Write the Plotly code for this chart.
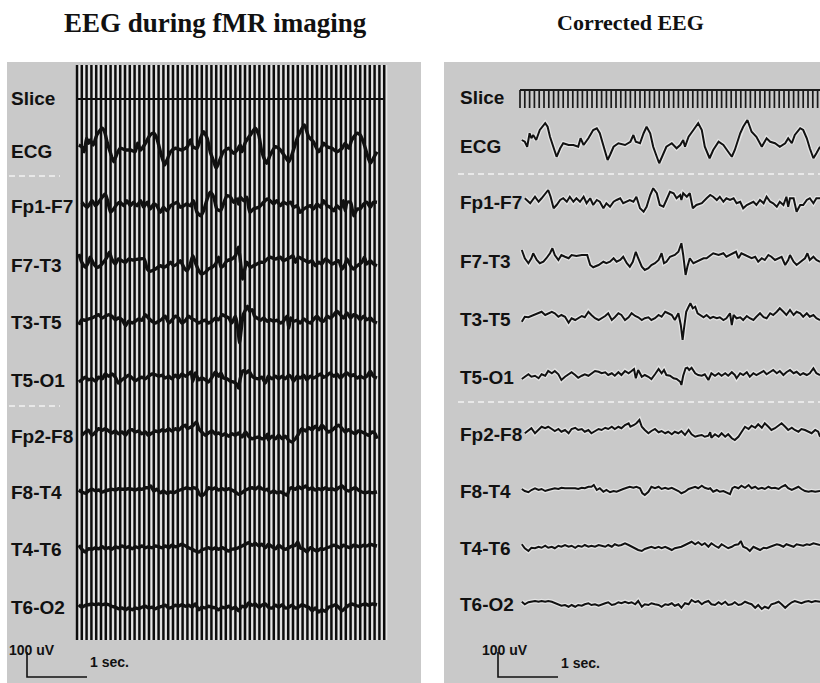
import plotly.graph_objects as go

# ---------------- data (time in s, amplitude in uV) ----------------
channels = ["Slice", "ECG", "Fp1-F7", "F7-T3", "T3-T5", "T5-O1",
            "Fp2-F8", "F8-T4", "T4-T6", "T6-O2"]

slice_times = [0.00, 0.08, 0.16, 0.24, 0.32, 0.40, 0.48, 0.56, 0.64, 0.72, 0.80, 0.88, 0.96,
               1.04, 1.12, 1.20, 1.28, 1.36, 1.44, 1.52, 1.60, 1.68, 1.76, 1.84, 1.92, 2.00,
               2.08, 2.16, 2.24, 2.32, 2.40, 2.48, 2.56, 2.64, 2.72, 2.80, 2.88, 2.96, 3.04,
               3.12, 3.20, 3.28, 3.36, 3.44, 3.52, 3.60, 3.68, 3.76, 3.84, 3.92, 4.00, 4.08,
               4.16, 4.24, 4.32, 4.40, 4.48, 4.56, 4.64, 4.72, 4.80, 4.88, 4.96, 5.04, 5.12]

ecg_t = [0.03, 0.08, 0.12, 0.16, 0.19, 0.22, 0.27, 0.33, 0.42, 0.46, 0.50, 0.56, 0.61, 0.67, 0.72,
         0.81, 0.89, 0.97, 1.01, 1.06, 1.14, 1.22, 1.28, 1.33, 1.39, 1.46, 1.50, 1.56, 1.64, 1.75,
         1.84, 1.89, 1.93, 2.00, 2.06, 2.11, 2.17, 2.22, 2.28, 2.32, 2.38, 2.44, 2.53, 2.61, 2.67,
         2.72, 2.75, 2.81, 2.89, 2.97, 3.03, 3.08, 3.16, 3.22, 3.31, 3.39, 3.47, 3.53, 3.58, 3.67,
         3.72, 3.79, 3.86, 3.94, 4.03, 4.08, 4.11, 4.17, 4.25, 4.33, 4.42, 4.47, 4.53, 4.58, 4.67,
         4.72, 4.78, 4.83, 4.89, 4.94, 5.00]
ecg_uv = [28, 21, 1, 55, 35, 48, 28, 68, 95, 81, 41, -5, -39, -5, 15, 8, 8, 1, 35, 8,
          35, 68, 75, 55, 1, -52, -32, 1, 15, 8, 21, 48, 21, 15, 55, 81, 55, 1, -39, -65,
          -32, 1, 15, -5, 8, 28, 1, 41, 68, 95, 68, 1, -45, -12, 21, 8, -19, -39, -12, 55,
          81, 108, 61, 41, 1, 21, 35, 21, 15, 1, 15, 35, 15, 48, 75, 68, 35, -5, -45, -25, 1]

fp1f7_t = [0.08, 0.17, 0.25, 0.31, 0.36, 0.42, 0.47, 0.51, 0.56, 0.61, 0.67, 0.72, 0.78, 0.83,
           0.89, 0.94, 1.00, 1.06, 1.11, 1.17, 1.22, 1.28, 1.33, 1.39, 1.44, 1.50, 1.56, 1.61,
           1.67, 1.72, 1.78, 1.83, 1.89, 1.94, 2.00, 2.06, 2.11, 2.17, 2.22, 2.28, 2.33, 2.39,
           2.44, 2.50, 2.56, 2.61, 2.67, 2.69, 2.72, 2.78, 2.83, 2.88, 2.94, 3.03, 3.11, 3.17,
           3.22, 3.28, 3.33, 3.39, 3.44, 3.50, 3.56, 3.61, 3.67, 3.72, 3.78, 3.83, 3.89, 3.94,
           4.00, 4.06, 4.11, 4.17, 4.22, 4.28, 4.33, 4.39, 4.44, 4.47, 4.50, 4.56, 4.61, 4.67,
           4.72, 4.78, 4.83, 4.89, 4.94, 5.00]
fp1f7_uv = [19, -1, 25, 5, 19, 39, 52, 25, -21, -8, 12, 19, 5, 25, 5, 19, 5, 25, -1, 19,
            -8, 12, 5, -21, -1, -15, 5, 12, 19, -1, 5, 12, 5, 25, -21, -35, -15, 32, 59, 39,
            -8, -15, 12, 45, 39, 19, 32, 12, 39, 25, 39, -21, -8, -1, 19, 32, 25, 12, 25, 5,
            19, 12, 19, -1, 5, -21, -8, -1, 5, -8, 12, -1, 25, 5, -1, -15, 5, -8, 25, -15,
            19, 19, -35, -8, -8, 12, 19, -1, 19, 19]

f7t3_t = [0.03, 0.08, 0.14, 0.19, 0.22, 0.28, 0.33, 0.39, 0.44, 0.50, 0.54, 0.58, 0.64, 0.69,
          0.75, 0.81, 0.86, 0.94, 1.03, 1.12, 1.17, 1.22, 1.31, 1.39, 1.44, 1.50, 1.56, 1.61,
          1.67, 1.72, 1.78, 1.83, 1.88, 1.93, 1.97, 2.03, 2.08, 2.14, 2.19, 2.25, 2.31, 2.36,
          2.40, 2.44, 2.50, 2.58, 2.64, 2.69, 2.72, 2.76, 2.79, 2.83, 2.89, 2.94, 3.00, 3.06,
          3.11, 3.17, 3.22, 3.31, 3.39, 3.44, 3.50, 3.56, 3.60, 3.64, 3.69, 3.75, 3.81, 3.86,
          3.92, 3.97, 4.03, 4.08, 4.14, 4.19, 4.25, 4.31, 4.36, 4.42, 4.47, 4.50, 4.56, 4.61,
          4.67, 4.75, 4.79, 4.83, 4.89, 4.94, 5.00]
f7t3_uv = [48, 15, -5, 15, 35, 8, -5, 1, 15, 35, 55, 28, 8, 28, 21, 15, 28, 24, 28, 28,
           -12, -21, -12, 1, -5, 1, 15, 1, 8, 21, -5, -19, 1, 41, 15, -19, -32, -25, -12, -5,
           8, 35, -5, 1, 21, 28, 41, 75, 28, -52, -19, 15, -5, 1, 8, 15, 15, 28, 35, 28,
           35, 21, 28, 35, 41, 15, 35, 28, 21, 15, 21, 1, 15, 8, 28, 21, 8, 15, 21, -12,
           8, 28, 1, -12, 1, 15, 35, 8, 21, 8, 1]

t3t5_t = [0.03, 0.08, 0.14, 0.19, 0.25, 0.31, 0.36, 0.42, 0.47, 0.53, 0.58, 0.64, 0.69, 0.75,
          0.81, 0.86, 0.92, 0.97, 1.03, 1.08, 1.14, 1.19, 1.25, 1.31, 1.36, 1.42, 1.47, 1.53,
          1.58, 1.64, 1.69, 1.75, 1.81, 1.86, 1.92, 1.97, 2.03, 2.08, 2.14, 2.19, 2.25, 2.31,
          2.36, 2.42, 2.47, 2.53, 2.58, 2.64, 2.68, 2.71, 2.73, 2.77, 2.81, 2.84, 2.88, 2.92,
          2.96, 3.00, 3.06, 3.11, 3.17, 3.22, 3.28, 3.33, 3.39, 3.44, 3.50, 3.53, 3.56, 3.61,
          3.67, 3.72, 3.78, 3.83, 3.89, 3.94, 4.00, 4.06, 4.11, 4.17, 4.22, 4.28, 4.33, 4.39,
          4.44, 4.50, 4.56, 4.61, 4.67, 4.72, 4.78, 4.83, 4.89, 4.94, 5.00]
t3t5_uv = [-7, 13, 11, 16, 20, 27, 33, 20, 27, 33, 27, 13, 20, 13, -11, 7, 0, 7, 16, 11,
           33, 20, 7, 0, 7, 16, 27, 0, 11, 27, 20, 0, 11, 27, 16, 11, 0, 7, 11, 0,
           7, 20, 13, 33, 27, 20, 0, 27, -20, -80, -40, 33, 53, 67, 47, 53, 27, 20, 11, 20,
           7, 13, 7, 11, 0, 7, 27, -20, 20, 7, 11, 0, 16, 7, 0, 13, 27, 11, 7, 27,
           20, 33, 47, 33, 20, 40, 20, 33, 27, 13, 27, 13, 20, 7, 0]

t5o1_t = [0.03, 0.08, 0.14, 0.19, 0.25, 0.31, 0.36, 0.42, 0.47, 0.53, 0.58, 0.64, 0.69, 0.75,
          0.81, 0.86, 0.92, 0.97, 1.03, 1.08, 1.14, 1.19, 1.25, 1.31, 1.36, 1.42, 1.47, 1.53,
          1.58, 1.64, 1.69, 1.75, 1.81, 1.86, 1.90, 1.93, 1.97, 2.03, 2.08, 2.14, 2.19, 2.25,
          2.31, 2.36, 2.40, 2.44, 2.50, 2.56, 2.61, 2.67, 2.69, 2.72, 2.76, 2.79, 2.82, 2.86,
          2.92, 2.97, 3.03, 3.08, 3.14, 3.19, 3.25, 3.31, 3.36, 3.42, 3.47, 3.53, 3.58, 3.61,
          3.67, 3.72, 3.78, 3.83, 3.89, 3.94, 4.00, 4.06, 4.11, 4.17, 4.22, 4.28, 4.33, 4.39,
          4.44, 4.50, 4.56, 4.61, 4.67, 4.72, 4.78, 4.83, 4.89, 4.94, 5.00]
t5o1_uv = [-4, 5, 15, 5, 9, -1, 15, 9, 28, 19, 28, 15, -8, 5, 15, 23, 12, 1, 9, 15,
           9, 19, 28, 25, 19, 23, 12, 19, 9, 23, 12, 28, 19, 28, 36, -1, 32, 5, 12, 5,
           -4, 15, 36, 19, 32, 12, 9, -1, -4, -15, -28, 9, 39, 41, 32, 41, 19, 12, 9, 15,
           -8, 19, 9, 19, 9, 19, 9, 23, 12, -1, 19, 12, 23, 5, 19, 12, 19, 28, 15, 23,
           32, 19, 28, 12, 23, 32, 19, 25, 12, 19, 12, 19, 39, 19, 12]

fp2f8_t = [0.08, 0.14, 0.19, 0.25, 0.31, 0.36, 0.42, 0.47, 0.53, 0.58, 0.64, 0.69, 0.75, 0.81,
           0.86, 0.92, 0.97, 1.03, 1.08, 1.14, 1.19, 1.25, 1.31, 1.36, 1.42, 1.47, 1.53, 1.58,
           1.64, 1.69, 1.75, 1.81, 1.84, 1.90, 1.94, 1.99, 2.03, 2.08, 2.14, 2.19, 2.25, 2.31,
           2.36, 2.42, 2.47, 2.53, 2.58, 2.64, 2.69, 2.75, 2.81, 2.86, 2.92, 2.97, 3.03, 3.08,
           3.14, 3.17, 3.19, 3.25, 3.31, 3.36, 3.42, 3.47, 3.53, 3.58, 3.64, 3.69, 3.75, 3.81,
           3.86, 3.92, 3.97, 4.03, 4.08, 4.14, 4.19, 4.25, 4.31, 4.36, 4.42, 4.47, 4.53, 4.58,
           4.64, 4.69, 4.75, 4.81, 4.86, 4.92, 4.97, 5.00]
fp2f8_uv = [7, 20, 27, 7, 20, 33, 27, 33, 24, 16, 24, 13, 20, 7, 24, 29, 20, 24, 13, 20,
            7, 16, 24, 20, 29, 24, 33, 24, 33, 27, 40, 47, 33, 40, 47, 60, 33, 20, 7, 16,
            24, 11, 16, 7, 13, 3, 13, 7, 16, 0, 20, 3, -7, -3, 0, -7, -3, 11, -11, 3,
            -7, 7, -7, 3, -13, -20, -7, 11, 33, 24, 37, 29, 43, 29, 47, 33, 20, 27, 40, 47,
            33, 20, 29, 20, 13, 24, 20, 13, 7, 20, 13, -7]

f8t4_t = [0.03, 0.08, 0.14, 0.19, 0.25, 0.31, 0.36, 0.42, 0.47, 0.53, 0.58, 0.64, 0.69, 0.75,
          0.81, 0.86, 0.92, 0.97, 1.03, 1.08, 1.14, 1.19, 1.23, 1.28, 1.33, 1.39, 1.44, 1.50,
          1.56, 1.61, 1.67, 1.72, 1.78, 1.83, 1.89, 1.94, 2.00, 2.04, 2.08, 2.14, 2.19, 2.25,
          2.31, 2.36, 2.42, 2.47, 2.53, 2.58, 2.64, 2.69, 2.75, 2.81, 2.86, 2.92, 2.97, 3.03,
          3.08, 3.14, 3.17, 3.22, 3.28, 3.33, 3.39, 3.44, 3.50, 3.54, 3.58, 3.64, 3.69, 3.75,
          3.81, 3.86, 3.92, 3.97, 4.03, 4.08, 4.14, 4.19, 4.25, 4.31, 4.36, 4.42, 4.47, 4.53,
          4.58, 4.64, 4.69, 4.75, 4.81, 4.86, 4.92, 5.00]
f8t4_uv = [12, 4, -1, 8, 15, 8, 12, 4, 8, 12, 15, 12, 17, 15, 15, 17, 15, 12, 17, 15,
           21, 21, 28, 8, 15, 1, 8, -1, 4, 1, 8, 12, 17, 21, 17, 21, 15, -5, -12, 1,
           21, 15, 21, 12, 17, 12, 17, 12, 4, -5, 1, 12, 17, 21, 15, 25, 17, 12, 15, 1,
           8, 1, 4, -1, -9, 15, 21, 15, 25, 17, 28, 15, 21, 12, 17, 12, 21, 15, 17, 12,
           21, 28, 15, 8, 15, 21, 12, 4, 1, 4, 1, 4]

t4t6_t = [0.03, 0.08, 0.14, 0.19, 0.25, 0.31, 0.36, 0.42, 0.47, 0.53, 0.58, 0.64, 0.69, 0.75,
          0.81, 0.86, 0.92, 0.97, 1.03, 1.08, 1.14, 1.19, 1.25, 1.31, 1.36, 1.42, 1.47, 1.53,
          1.58, 1.64, 1.69, 1.75, 1.81, 1.86, 1.92, 1.97, 2.03, 2.08, 2.14, 2.19, 2.25, 2.31,
          2.36, 2.42, 2.47, 2.53, 2.58, 2.64, 2.69, 2.75, 2.81, 2.86, 2.92, 2.97, 3.03, 3.08,
          3.14, 3.19, 3.25, 3.31, 3.36, 3.42, 3.47, 3.53, 3.58, 3.64, 3.68, 3.72, 3.78, 3.83,
          3.89, 3.94, 4.00, 4.06, 4.11, 4.17, 4.22, 4.28, 4.33, 4.39, 4.44, 4.50, 4.56, 4.61,
          4.67, 4.72, 4.78, 4.83, 4.89, 4.94, 5.00]
t4t6_uv = [15, -1, -12, 1, -1, 5, 1, 9, 1, 5, -1, 9, 5, 12, 5, 9, 1, 9, 5, 12,
           5, 9, 5, 12, 9, 5, 12, 5, 15, 9, 12, 19, 12, 5, -1, -8, -12, -4, 1, 5,
           -1, 5, -1, 5, -1, -8, -1, 1, 5, 12, 19, 25, 15, 23, 12, 19, 5, 19, 9, 1,
           15, 5, -1, 5, 12, 15, 28, 5, -1, -12, 5, -1, -8, 1, -1, 5, 9, 15, 12, 5,
           15, 9, 5, 15, 12, 9, 15, 12, 19, 15, 12]

t6o2_t = [0.03, 0.08, 0.14, 0.19, 0.25, 0.31, 0.36, 0.42, 0.47, 0.53, 0.58, 0.64, 0.69, 0.75,
          0.81, 0.86, 0.92, 0.97, 1.03, 1.08, 1.14, 1.19, 1.25, 1.31, 1.36, 1.42, 1.47, 1.53,
          1.58, 1.64, 1.69, 1.75, 1.81, 1.86, 1.92, 1.97, 2.03, 2.08, 2.14, 2.19, 2.25, 2.31,
          2.36, 2.42, 2.47, 2.53, 2.58, 2.64, 2.69, 2.75, 2.81, 2.86, 2.92, 2.97, 3.03, 3.08,
          3.14, 3.19, 3.25, 3.31, 3.36, 3.42, 3.47, 3.53, 3.58, 3.64, 3.69, 3.75, 3.81, 3.86,
          3.92, 3.97, 4.03, 4.08, 4.14, 4.19, 4.25, 4.31, 4.36, 4.42, 4.47, 4.53, 4.58, 4.64,
          4.69, 4.75, 4.81, 4.86, 4.92, 5.00]
t6o2_uv = [9, -1, 7, 9, 12, 9, 12, 9, 12, 9, 3, -1, -7, -4, -11, -4, -11, -4, -7, -1,
           3, -4, -1, -7, -1, 3, 7, -4, -1, 7, 3, 9, 3, 7, -1, 12, -11, -1, -4, 3,
           -1, -4, -11, -1, -4, 3, -7, -1, -15, 3, -1, 16, 7, 12, -1, 7, 12, -1, -4, 7,
           -1, 9, -4, -1, 7, -4, -1, 9, 3, -1, -15, -4, -20, -11, -17, -1, 3, 9, -1, -15,
           -4, 7, 12, 7, 3, 9, 12, 7, 12, 9]

eeg_series = [(ecg_t, ecg_uv), (fp1f7_t, fp1f7_uv), (f7t3_t, f7t3_uv), (t3t5_t, t3t5_uv),
              (t5o1_t, t5o1_uv), (fp2f8_t, fp2f8_uv), (f8t4_t, f8t4_uv), (t4t6_t, t4t6_uv),
              (t6o2_t, t6o2_uv)]

scale_uv = 100      # vertical calibration bar
scale_sec = 1.0     # horizontal calibration bar

# ---------------- layout geometry (pixels) ----------------
W, H = 820, 683
TOP, BOTTOM = 62, 683
UVPX = 4.0          # uV per pixel
SECPX = 60.0        # pixels per second

left_x0, left_x1, left_t0 = 7, 421, 77
right_x0, right_x1, right_t0 = 444, 820, 520

left_rows = [99, 152, 207, 266, 323, 381, 437, 493, 549, 607]
right_rows = [98, 147, 203, 262, 320, 378, 435, 492, 548, 604]


def yuv(p):
    return (BOTTOM - p) * UVPX


def tl(px):
    return (px - left_t0) / SECPX


def tr(px):
    return (px - right_t0) / SECPX


fig = go.Figure()
GRAY = "#c9c9c9"
LABEL_FONT = dict(family="Liberation Sans, Arial, sans-serif", size=19, color="#111111", weight="bold")

# ---------- LEFT PANEL ----------
art_x, art_y = [], []
gap_x, gap_y = [], []
for t in slice_times:
    art_x += [t, t, None]
    art_y += [yuv(65), yuv(640), None]
    gap_x += [t + 0.04, t + 0.04, None]
    gap_y += [yuv(65), yuv(640), None]
fig.add_trace(go.Scatter(x=gap_x, y=gap_y, mode="lines", line=dict(color="rgba(235,235,235,0.9)", width=1.4),
                         xaxis="x", yaxis="y", hoverinfo="skip"))
fig.add_trace(go.Scatter(x=art_x, y=art_y, mode="lines", line=dict(color="#0d0d0d", width=2.4),
                         xaxis="x", yaxis="y", hoverinfo="skip"))
fig.add_trace(go.Scatter(x=[slice_times[0], slice_times[-1]], y=[yuv(left_rows[0])] * 2, mode="lines",
                         line=dict(color="#0d0d0d", width=2), xaxis="x", yaxis="y", hoverinfo="skip"))
for (t, v), row in zip(eeg_series, left_rows[1:]):
    base = yuv(row)
    fig.add_trace(go.Scatter(x=t, y=[base + a for a in v], mode="lines",
                             line=dict(color="#111111", width=3.4, shape="spline", smoothing=0.6),
                             xaxis="x", yaxis="y", hoverinfo="skip"))

# ---------- RIGHT PANEL ----------
sx, sy = [], []
top = yuv(right_rows[0]) + 8 * UVPX
for t in slice_times:
    sx += [t, t, None]
    sy += [top, top - 18 * UVPX, None]
fig.add_trace(go.Scatter(x=sx, y=sy, mode="lines", line=dict(color="#1a1a1a", width=1.7),
                         xaxis="x2", yaxis="y2", hoverinfo="skip"))
fig.add_trace(go.Scatter(x=[0, 5.2], y=[top, top], mode="lines", line=dict(color="#1a1a1a", width=1.8),
                         xaxis="x2", yaxis="y2", hoverinfo="skip"))
for (t, v), row in zip(eeg_series, right_rows[1:]):
    base = yuv(row)
    yy = [base + a for a in v]
    fig.add_trace(go.Scatter(x=t, y=yy, mode="lines", line=dict(color="rgba(255,255,255,0.5)", width=4.5),
                             xaxis="x2", yaxis="y2", hoverinfo="skip"))
    fig.add_trace(go.Scatter(x=t, y=yy, mode="lines", line=dict(color="#111111", width=2),
                             xaxis="x2", yaxis="y2", hoverinfo="skip"))

# ---------- calibration bars ----------
for xa, ya, tfun, barx in (("x", "y", tl, 27), ("x2", "y2", tr, 498)):
    x0 = tfun(barx)
    y0 = yuv(677)
    fig.add_trace(go.Scatter(x=[x0, x0, x0 + scale_sec], y=[y0 + scale_uv, y0, y0], mode="lines",
                             line=dict(color="#111111", width=1.6), xaxis=xa, yaxis=ya, hoverinfo="skip"))

# ---------- annotations ----------
ann = []
for name, row in zip(channels, left_rows):
    ann.append(dict(x=tl(9), y=yuv(row), xref="x", yref="y", text=name, showarrow=False,
                    xanchor="left", yanchor="middle", font=LABEL_FONT))
for name, row in zip(channels, right_rows):
    ann.append(dict(x=tr(458), y=yuv(row), xref="x2", yref="y2", text=name, showarrow=False,
                    xanchor="left", yanchor="middle", font=LABEL_FONT))
SMALL = dict(family="Liberation Sans, Arial, sans-serif", size=14, color="#111111", weight="bold")
ann += [
    dict(x=tl(32), y=yuv(650), xref="x", yref="y", text="100 uV", showarrow=False, xanchor="center", yanchor="middle", font=SMALL),
    dict(x=tl(88), y=yuv(662), xref="x", yref="y", text="1 sec.", showarrow=False, xanchor="left", yanchor="middle", font=SMALL),
    dict(x=tr(505), y=yuv(650), xref="x2", yref="y2", text="100 uV", showarrow=False, xanchor="center", yanchor="middle", font=SMALL),
    dict(x=tr(559), y=yuv(663), xref="x2", yref="y2", text="1 sec.", showarrow=False, xanchor="left", yanchor="middle", font=SMALL),
]
TITLE_L = dict(family="Liberation Serif, Times New Roman, serif", size=27, color="#111111", weight="bold")
TITLE_R = dict(family="Liberation Serif, Times New Roman, serif", size=22, color="#111111", weight="bold")
ann += [
    dict(x=215 / W, y=1 - 23 / H, xref="paper", yref="paper", text="EEG during fMR imaging", showarrow=False,
         xanchor="center", yanchor="middle", font=TITLE_L),
    dict(x=630 / W, y=1 - 23 / H, xref="paper", yref="paper", text="Corrected EEG", showarrow=False,
         xanchor="center", yanchor="middle", font=TITLE_R),
]

shapes = []
for yp in (176, 406):
    shapes.append(dict(type="line", xref="x", yref="y", x0=tl(9), x1=tl(60), y0=yuv(yp), y1=yuv(yp),
                       line=dict(color="#f2f2f2", width=1.4, dash="6px,4px")))
for yp in (174, 402):
    shapes.append(dict(type="line", xref="x2", yref="y2", x0=tr(458), x1=tr(820), y0=yuv(yp), y1=yuv(yp),
                       line=dict(color="#f2f2f2", width=1.4, dash="6px,4px")))

ydom = [0, (BOTTOM - TOP) / H]
yrng = [0, (BOTTOM - TOP) * UVPX]
fig.update_layout(
    width=W, height=H, margin=dict(l=0, r=0, t=0, b=0),
    paper_bgcolor="white", plot_bgcolor=GRAY, showlegend=False,
    xaxis=dict(domain=[left_x0 / W, left_x1 / W], range=[tl(left_x0), tl(left_x1)], visible=False, fixedrange=True),
    yaxis=dict(domain=ydom, range=yrng, visible=False, fixedrange=True),
    xaxis2=dict(domain=[right_x0 / W, right_x1 / W], range=[tr(right_x0), tr(right_x1)], visible=False, fixedrange=True),
    yaxis2=dict(domain=ydom, range=yrng, visible=False, anchor="x2", fixedrange=True),
    annotations=ann, shapes=shapes,
)

fig.write_html("out.html")
